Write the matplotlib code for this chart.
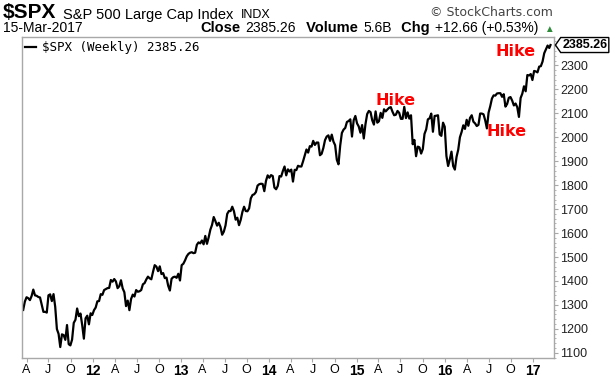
import matplotlib
matplotlib.use("Agg")
import matplotlib.pyplot as plt
import matplotlib.ticker as mticker
from matplotlib.offsetbox import TextArea, HPacker, AnnotationBbox
from matplotlib.path import Path
import pandas as pd

plt.rcParams['font.family'] = ['Liberation Sans', 'DejaVu Sans']

# weekly closes, week ending Friday, from 18-Mar-2011
closes_2011 = [1279, 1314, 1332, 1328, 1320, 1337, 1364, 1340, 1338, 1333, 1331,
               1300, 1271, 1271, 1268, 1340, 1344, 1316, 1345, 1292, 1199, 1179,
               1124, 1177, 1174, 1154, 1216, 1136, 1131, 1155, 1225, 1238, 1285,
               1253, 1264, 1216, 1159, 1244, 1255, 1219, 1265, 1258]
closes_2012 = [1278, 1289, 1315, 1316, 1345, 1342, 1362, 1366, 1370, 1371, 1404,
               1397, 1408, 1398, 1370, 1378, 1403, 1369, 1353, 1295, 1318, 1278,
               1325, 1343, 1335, 1362, 1355, 1357, 1362, 1386, 1391, 1406, 1418,
               1411, 1407, 1438, 1466, 1460, 1441, 1461, 1429, 1433, 1412, 1414,
               1380, 1360, 1409, 1416, 1418, 1413, 1430, 1402]
closes_2013 = [1466, 1472, 1486, 1503, 1513, 1518, 1520, 1516, 1518, 1551, 1561,
               1557, 1569, 1553, 1588, 1555, 1582, 1614, 1634, 1667, 1650, 1631,
               1643, 1626, 1593, 1606, 1632, 1680, 1692, 1692, 1710, 1691, 1656,
               1664, 1633, 1655, 1688, 1710, 1692, 1691, 1703, 1745, 1759, 1762,
               1771, 1798, 1804, 1806, 1805, 1775, 1818, 1841]
closes_2014 = [1831, 1842, 1838, 1790, 1783, 1797, 1838, 1836, 1859, 1878, 1841,
               1866, 1857, 1865, 1815, 1864, 1863, 1881, 1878, 1878, 1900, 1924,
               1949, 1936, 1963, 1961, 1985, 1968, 1978, 1978, 1925, 1931, 1955,
               1988, 2003, 2008, 1985, 2011, 1982, 1967, 1906, 1887, 1965, 2018,
               2032, 2039, 2064, 2068, 2075, 2003, 2071, 2089]
closes_2015 = [2058, 2045, 2019, 2051, 1995, 2055, 2097, 2110, 2105, 2071, 2053,
               2108, 2061, 2067, 2102, 2081, 2117, 2108, 2116, 2123, 2126, 2107,
               2092, 2094, 2110, 2102, 2077, 2077, 2127, 2080, 2104, 2078, 2092,
               1971, 1989, 1921, 1961, 1958, 1932, 1951, 2014, 2033, 2075, 2079,
               2099, 2023, 2089, 2090, 2092, 2012, 2006, 2061, 2044]
closes_2016 = [1922, 1880, 1907, 1940, 1880, 1865, 1918, 1948, 2000, 2022, 2050,
               2035, 2073, 2048, 2081, 2092, 2065, 2058, 2047, 2052, 2099, 2099,
               2096, 2071, 2037, 2103, 2130, 2162, 2175, 2174, 2183, 2184, 2184,
               2169, 2180, 2128, 2139, 2165, 2168, 2153, 2133, 2141, 2126, 2085,
               2164, 2182, 2213, 2192, 2260, 2258, 2264, 2239]
closes_2017 = [2277, 2275, 2271, 2295, 2297, 2316, 2351, 2367, 2383, 2373, 2385.26]

closes = (closes_2011 + closes_2012 + closes_2013 + closes_2014 +
          closes_2015 + closes_2016 + closes_2017)
dates = pd.date_range('2011-03-18', periods=len(closes), freq='W-FRI')
dates = dates[:-1].append(pd.DatetimeIndex(['2017-03-15']))

tick_dates = pd.date_range('2011-04-01', '2017-01-01', freq='QS-JAN')
tick_labels = [d.strftime('%y') if d.month == 1 else d.strftime('%b')[0]
               for d in tick_dates]
y_ticks = list(range(1100, 2400, 100))

grey = '#a8a8a8'

fig = plt.figure(figsize=(6.12, 3.78), dpi=100)
ax = fig.add_axes([0.0355, 0.054, 0.8695, 0.847])

ax.plot(dates, closes, color='black', lw=1.6, label='\\$SPX (Weekly) 2385.26')

ax.set_xlim(pd.Timestamp('2011-03-12'), pd.Timestamp('2017-03-29'))
ax.set_ylim(1080, 2417)

for s in ax.spines.values():
    s.set_color(grey)
    s.set_linewidth(1)

ax.yaxis.tick_right()
ax.set_yticks(y_ticks)
ax.yaxis.set_minor_locator(mticker.MultipleLocator(20))
ax.tick_params(axis='y', which='major', length=3, color=grey, pad=1.5,
               labelsize=9, labelcolor='#222222')
ax.tick_params(axis='y', which='minor', length=1.5, color=grey)

ax.set_xticks(tick_dates)
ax.set_xticklabels(tick_labels)
ax.tick_params(axis='x', length=3, color=grey, pad=1.5, labelsize=9)
for lbl in ax.get_xticklabels():
    if lbl.get_text().isdigit():
        lbl.set_fontweight('bold')
        lbl.set_fontsize(10)

ax.legend(loc='upper left', frameon=False, handlelength=0.85, handletextpad=0.5,
          borderaxespad=0.15, borderpad=0.15,
          prop=dict(family='DejaVu Sans Mono', size=9))

# hike annotations
hike = dict(color='#ff0000', fontsize=11.5, fontweight='bold', family='DejaVu Sans',
            ha='center', va='center')
ax.text(pd.Timestamp('2015-06-12'), 2155, 'Hike', **hike)
ax.text(pd.Timestamp('2016-09-15'), 2026, 'Hike', **hike)
ax.text(pd.Timestamp('2016-10-20'), 2357, 'Hike', **hike)


def tag_box(x0, y0, width, height, mutation_size):
    pad = 0.12 * mutation_size
    x0, y0 = x0 - pad, y0 - pad
    x1, y1 = x0 + width + 2 * pad, y0 + height + 2 * pad
    tip = x0 - 0.35 * (y1 - y0)
    ym = (y0 + y1) / 2
    return Path([(tip, ym), (x0, y1), (x1, y1), (x1, y0), (x0, y0), (tip, ym)],
                closed=True)


ax.annotate(f'{closes[-1]:.2f}', xy=(1, closes[-1]), xycoords=ax.get_yaxis_transform(),
            xytext=(6, 0), textcoords='offset points', ha='left', va='center',
            fontsize=9, fontweight='bold', annotation_clip=False,
            bbox=dict(boxstyle=tag_box, fc='white', ec='black', lw=1))

# header
line1 = HPacker(children=[
    TextArea('\\$SPX', textprops=dict(fontsize=15, fontweight='bold')),
    TextArea('S&P 500 Large Cap Index', textprops=dict(fontsize=10.5)),
    TextArea('INDX', textprops=dict(fontsize=9)),
], align='baseline', pad=0, sep=5)
fig.add_artist(AnnotationBbox(line1, (3 / 612, 1 - 13 / 378), xycoords='figure fraction',
                              box_alignment=(0, 0.5), frameon=False, pad=0))

line2 = HPacker(children=[
    TextArea('Close', textprops=dict(fontsize=10.5, fontweight='bold')),
    TextArea('2385.26', textprops=dict(fontsize=10)),
    TextArea(' Volume', textprops=dict(fontsize=10.5, fontweight='bold')),
    TextArea('5.6B', textprops=dict(fontsize=10)),
    TextArea(' Chg', textprops=dict(fontsize=10.5, fontweight='bold')),
    TextArea('+12.66 (+0.53%)', textprops=dict(fontsize=10)),
    TextArea('\u25B2', textprops=dict(fontsize=7, color='#2e8b3a')),
], align='baseline', pad=0, sep=4)
fig.add_artist(AnnotationBbox(line2, (554 / 612, 1 - 28 / 378), xycoords='figure fraction',
                              box_alignment=(1, 0.5), frameon=False, pad=0))

fig.text(3 / 612, 1 - 28 / 378, '15-Mar-2017', fontsize=10, ha='left', va='center')
fig.text(553 / 612, 1 - 12 / 378, '\u00a9 StockCharts.com', fontsize=9, ha='right',
         va='center', color='#444444', family='DejaVu Sans')

fig.savefig('out.png', dpi=100)
